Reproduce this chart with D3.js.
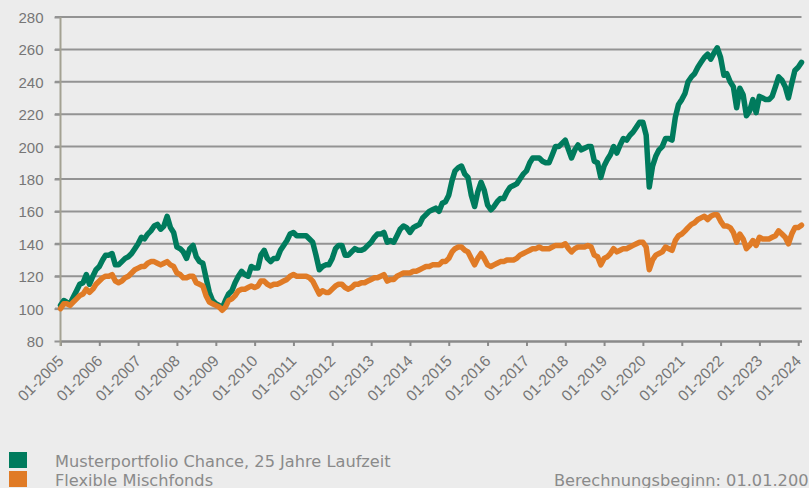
<!DOCTYPE html>
<html>
<head>
<meta charset="utf-8">
<script src="https://cdn.jsdelivr.net/npm/d3@7"></script>
<style>
  html, body { margin: 0; padding: 0; background: #ececec; }
  svg { display: block; font-family: "DejaVu Sans", Verdana, sans-serif; }
</style>
</head>
<body>
<svg id="chart" width="809" height="488"></svg>
<script>
// monthly values, first month 01-2005, last month 02-2024
var firstMonth = new Date(2005, 0, 1);

var chance = [
  102, 105, 104, 103, 107, 111, 115, 116, 121, 115, 120, 124,
  126, 130, 133, 133, 134, 127, 127, 129, 131, 132, 134, 137,
  140, 144, 143, 146, 148, 151, 152, 149, 151, 157, 150, 147,
  138, 137, 135, 131, 137, 139, 132, 129, 128, 119, 110, 105,
  103, 102, 100, 105, 109, 111, 116, 120, 123, 121, 120, 126,
  125, 125, 133, 136, 131, 129, 131, 131, 136, 139, 142, 146,
  147, 145, 145, 145, 145, 143, 141, 133, 124, 126, 127, 127,
  131, 137, 139, 139, 133, 133, 135, 137, 136, 136, 137, 139,
  141, 144, 146, 146, 147, 141, 142, 141, 145, 149, 151, 150,
  147, 150, 151, 152, 156, 158, 160, 161, 162, 160, 165, 166,
  170, 179, 185, 187, 188, 183, 181, 170, 163, 172, 178, 173,
  164, 161, 163, 166, 168, 168, 172, 175, 176, 177, 180, 183,
  185, 190, 193, 193, 193, 191, 190, 190, 195, 200, 200, 202,
  204, 198, 193, 198, 201, 198, 199, 200, 200, 191, 190, 181,
  188, 192, 195, 200, 196, 201, 205, 204, 207, 209, 212, 215,
  215, 207, 175, 188, 194, 198, 200, 205, 205, 204, 218, 226,
  229, 233, 240, 243, 245, 249, 252, 255, 257, 254, 258, 261,
  255, 244, 245, 240, 237, 224, 236, 232, 219, 222, 229, 221,
  231, 230, 229, 229, 231, 237, 243, 241, 237, 230, 239, 247,
  249, 252
];

var mischfonds = [
  100, 103, 103, 102, 104, 106, 108, 109, 112, 110, 112, 115,
  117, 119, 120, 120, 121, 117, 116, 117, 119, 120, 122, 124,
  125, 126, 126, 128, 129, 129, 128, 127, 128, 129, 127, 126,
  122, 121, 119, 119, 120, 120, 116, 115, 114, 108, 104, 103,
  102, 101, 99, 101, 105, 106, 108, 111, 112, 112, 113, 114,
  113, 114, 117, 117, 115, 114, 115, 115, 116, 117, 118, 120,
  121, 120, 120, 120, 120, 119, 117, 113, 109, 111, 110, 110,
  112, 114, 115, 115, 113, 112, 113, 115, 115, 116, 116, 117,
  118, 119, 119, 120, 121, 117, 118, 118, 120, 121, 122, 122,
  122, 123, 123, 124, 125, 126, 126, 127, 127, 127, 129, 129,
  131, 135, 137, 138, 138, 136, 135, 131, 127, 131, 134, 131,
  127, 126, 127, 128, 129, 129, 130, 130, 130, 131, 133, 134,
  135, 136, 137, 137, 138, 137, 137, 137, 138, 139, 139, 139,
  140, 137, 135, 137, 138, 138, 138, 139, 138, 133, 132, 127,
  131, 132, 134, 137, 135, 136, 137, 137, 138, 139, 140, 141,
  141, 138, 124, 130, 133, 134, 135, 138, 137, 136, 142, 145,
  146, 148, 150, 152, 153, 155, 156, 157, 155, 157, 158, 158,
  154, 151, 151, 150, 147, 141, 146, 143, 137, 139, 142, 139,
  144, 143, 143, 143, 144, 145, 148, 146, 144, 140, 146, 150,
  150, 151.5
];

var seriesNames = ["Musterportfolio Chance, 25 Jahre Laufzeit", "Flexible Mischfonds"];
var seriesColors = ["#007b5d", "#e07b26"];
var yTicks = [80, 100, 120, 140, 160, 180, 200, 220, 240, 260, 280];
var xTickYears = d3.range(2005, 2025);
var footnote = "Berechnungsbeginn: 01.01.2005";

var svg = d3.select("#chart");

var dates = chance.map(function(d, i) { return d3.timeMonth.offset(firstMonth, i); });

var x = d3.scaleTime()
    .domain([dates[0], dates[dates.length - 1]])
    .range([60.5, 801.5]);

var y = d3.scaleLinear()
    .domain([80, 280])
    .range([341, 17]);

// horizontal grid lines
svg.append("g")
  .selectAll("line")
  .data(yTicks.slice(1))
  .enter().append("line")
    .attr("x1", 55)
    .attr("x2", 801.5)
    .attr("y1", function(d) { return y(d); })
    .attr("y2", function(d) { return y(d); })
    .attr("stroke", "#939393")
    .attr("stroke-width", 2);

// y axis
var yAxis = svg.append("g")
    .attr("transform", "translate(60.5,0)")
    .call(d3.axisLeft(y).tickValues(yTicks).tickSize(6).tickPadding(11));
yAxis.select(".domain").remove();
yAxis.selectAll(".tick line").attr("stroke", "#939393").attr("stroke-width", 2);
yAxis.selectAll("text")
    .attr("fill", "#767676")
    .style("font-size", "15px")
    .attr("dy", "0.36em");

// x axis
var xAxis = svg.append("g")
    .attr("transform", "translate(0," + y(80) + ")")
    .call(d3.axisBottom(x)
      .tickValues(xTickYears.map(function(yr) { return new Date(yr, 0, 1); }))
      .tickSize(5)
      .tickSizeOuter(0)
      .tickFormat(function(d) { return "01-" + d.getFullYear(); }));
xAxis.select(".domain").attr("stroke", "#8a8a8a").attr("stroke-width", 2.5);
xAxis.selectAll(".tick line").attr("stroke", "#8a8a8a").attr("stroke-width", 2);
xAxis.selectAll("text")
    .attr("fill", "#767676")
    .style("font-size", "15.5px")
    .attr("text-anchor", "end")
    .attr("transform", "translate(3.5,21) rotate(-45)")
    .attr("y", 0)
    .attr("dy", 0);

// left vertical axis line
svg.append("line")
    .attr("x1", 60.5).attr("x2", 60.5)
    .attr("y1", y(280)).attr("y2", y(80) + 5)
    .attr("stroke", "#a3a192")
    .attr("stroke-width", 2);

// lines
var line = d3.line()
    .x(function(d, i) { return x(dates[i]); })
    .y(function(d) { return y(d); });

[chance, mischfonds].forEach(function(s, k) {
  svg.append("path")
      .datum(s)
      .attr("fill", "none")
      .attr("stroke", seriesColors[k])
      .attr("stroke-width", 5.5)
      .attr("stroke-linejoin", "round")
      .attr("stroke-linecap", "round")
      .attr("d", line);
});

// legend
var legend = svg.append("g").selectAll("g")
    .data(seriesNames)
  .enter().append("g")
    .attr("transform", function(d, i) { return "translate(0," + (452 + i * 19) + ")"; });

legend.append("rect")
    .attr("x", 9)
    .attr("width", 18)
    .attr("height", 16)
    .attr("fill", function(d, i) { return seriesColors[i]; });

legend.append("text")
    .attr("x", 55)
    .attr("y", 14.5)
    .attr("fill", "#8a8a8a")
    .style("font-size", "16.2px")
    .text(function(d) { return d; });

svg.append("text")
    .attr("x", 554)
    .attr("y", 485.5)
    .attr("fill", "#8a8a8a")
    .style("font-size", "16.2px")
    .text(footnote);
</script>
</body>
</html>
